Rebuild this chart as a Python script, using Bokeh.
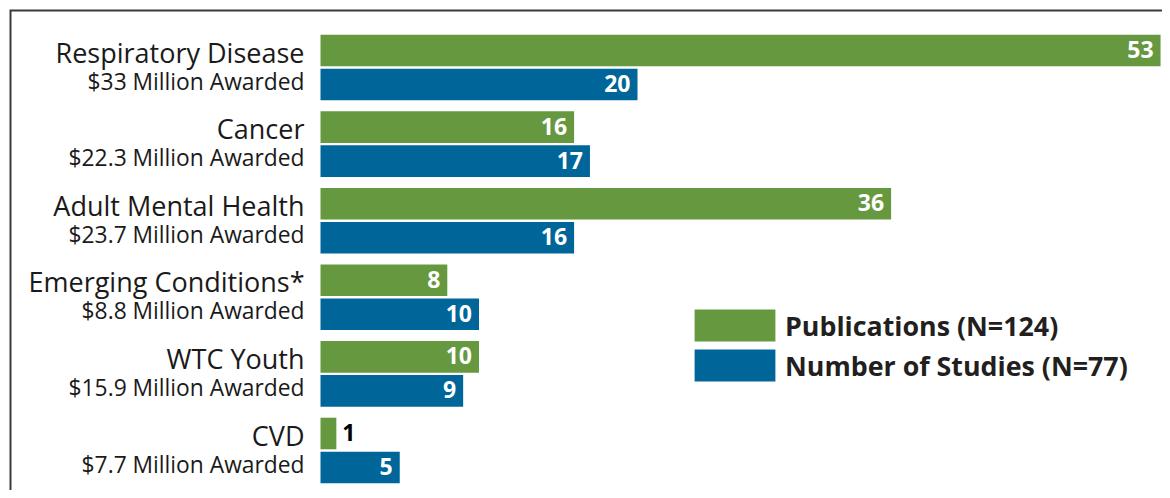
from bokeh.plotting import figure
from bokeh.models import Range1d, Legend, LegendItem, ColumnDataSource
from bokeh.core.properties import value
from bokeh.embed import file_html
from bokeh.resources import INLINE

# ---- data ----
categories = ["Respiratory Disease", "Cancer", "Adult Mental Health",
              "Emerging Conditions*", "WTC Youth", "CVD"]
awards = ["$33 Million Awarded", "$22.3 Million Awarded", "$23.7 Million Awarded",
          "$8.8 Million Awarded", "$15.9 Million Awarded", "$7.7 Million Awarded"]
publications = [53, 16, 36, 8, 10, 1]
studies = [20, 17, 16, 10, 9, 5]
series_names = ["Publications (N=124)", "Number of Studies (N=77)"]

GREEN = "#66993f"
BLUE = "#00669a"
FONT = "Open Sans"

W, H = 1162, 490
PX_X = 15.85          # pixels per count unit
ZERO_PX = 320         # pixel of x=0
ROW_PX = 34           # pixels per bar slot
TOP_PX = 50           # pixel of first bar centre
GROUP_STEP = 2.253    # slots per category group

idx = list(range(len(categories)))
y_pub = [-i * GROUP_STEP for i in idx]
y_stu = [y - 1 for y in y_pub]

p = figure(width=W, height=H, output_backend="svg", toolbar_location=None,
           x_range=Range1d(-ZERO_PX / PX_X, (W - ZERO_PX) / PX_X),
           y_range=Range1d(-(H - TOP_PX) / ROW_PX, TOP_PX / ROW_PX),
           x_axis_type=None, y_axis_type=None, min_border=0)
p.outline_line_color = None
p.xgrid.visible = False
p.ygrid.visible = False

# frame lines (top and left), drawn as one polyline through the corner
fx = (10 - ZERO_PX) / PX_X
fy = (TOP_PX - 10) / ROW_PX
p.line(x=[fx, fx, (W + 50 - ZERO_PX) / PX_X],
       y=[-(H + 50 - TOP_PX) / ROW_PX, fy, fy],
       line_color="#3a3a3a", line_width=2, line_join="miter")

src_pub = ColumnDataSource(dict(y=y_pub, v=publications))
src_stu = ColumnDataSource(dict(y=y_stu, v=studies))
r_pub = p.hbar(y="y", left=0, right="v", height=0.93, source=src_pub,
               fill_color=GREEN, line_color=None)
r_stu = p.hbar(y="y", left=0, right="v", height=0.93, source=src_stu,
               fill_color=BLUE, line_color=None)

# value labels
def label_source(ys, vals):
    inside = [v >= 3 for v in vals]
    return ColumnDataSource(dict(
        x=vals, y=ys, t=[str(v) for v in vals],
        align=["right" if i else "left" for i in inside],
        xo=[-7 if i else 6 for i in inside],
        col=["white" if i else "black" for i in inside]))

for ys, vals in ((y_pub, publications), (y_stu, studies)):
    s = label_source(ys, vals)
    p.text(x="x", y="y", text="t", source=s, text_align="align", x_offset="xo",
           y_offset=-1, text_baseline="alphabetic", text_color="col",
           text_font=value(FONT), text_font_style="bold", text_font_size="23px")

# category labels
p.text(x=[0] * len(categories), y=y_pub, text=categories, text_align="right",
       x_offset=-16, y_offset=1.5, text_baseline="alphabetic", text_color="#1a1a1a",
       text_font=value(FONT), text_font_size="27px")
p.text(x=[0] * len(awards), y=y_stu, text=awards, text_align="right",
       x_offset=-16, y_offset=-3.5, text_baseline="alphabetic", text_color="#1a1a1a",
       text_font=value(FONT), text_font_size="22.8px")

legend = Legend(items=[LegendItem(label=series_names[0], renderers=[r_pub]),
                       LegendItem(label=series_names[1], renderers=[r_stu])],
                location=(684, 105), glyph_width=101, glyph_height=40,
                label_height=40, spacing=0, padding=0, margin=0,
                label_standoff=-1, border_line_alpha=0, background_fill_alpha=0,
                label_text_font=FONT, label_text_font_style="bold",
                label_text_font_size="26.8px", label_text_color="#231f20")
p.add_layout(legend, "center")

open("out.html", "w").write(file_html(p, INLINE))
